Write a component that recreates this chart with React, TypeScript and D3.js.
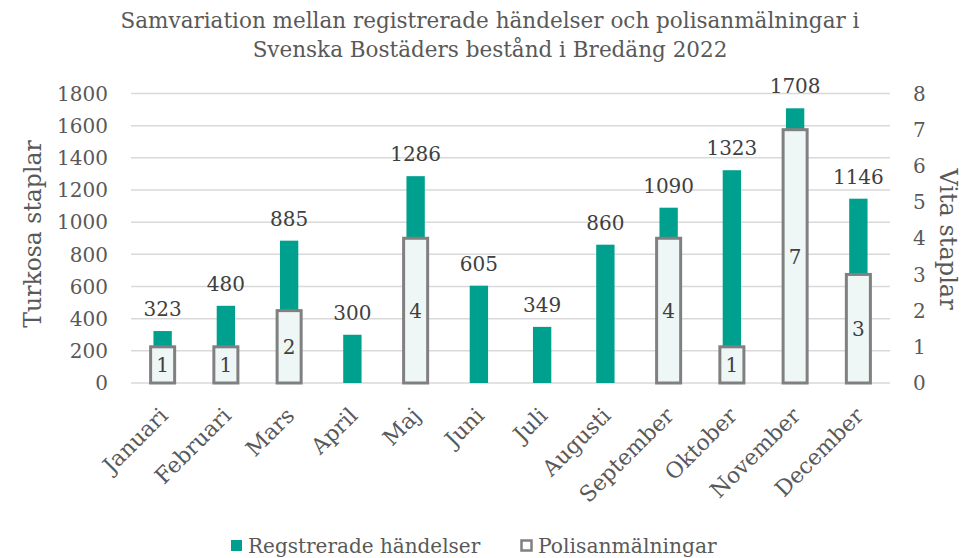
import React from "react";
import * as d3 from "d3";

const months = ["Januari","Februari","Mars","April","Maj","Juni","Juli","Augusti","September","Oktober","November","December"];
const registered = [323,480,885,300,1286,605,349,860,1090,1323,1708,1146];
const police = [1,1,2,0,4,0,0,0,4,1,7,3];
const leftTicks = [0,200,400,600,800,1000,1200,1400,1600,1800];
const rightTicks = [0,1,2,3,4,5,6,7,8];
const titleLines = ["Samvariation mellan registrerade händelser och polisanmälningar i","Svenska Bostäders bestånd i Bredäng 2022"];

const W = 979, H = 558;
const FONT = "'DejaVu Serif', serif";
const TEAL = "#00A08E";
const GRAY = "#808080";
const TXT = "#595959";

export default function App() {
  const x = d3.scaleBand<string>().domain(months).range([131, 890]).paddingInner(0).paddingOuter(0);
  const yL = d3.scaleLinear().domain([0, 1800]).range([383, 93.5]);
  const yR = d3.scaleLinear().domain([0, 8]).range([383, 93.5]);
  const bw = x.bandwidth();
  const tealW = bw * 0.29;
  const whiteW = bw * 0.38;
  return (
    <svg width={W} height={H} style={{ position: "absolute", left: 0, top: 0, background: "#fff" }} fontFamily={FONT}>
      {titleLines.map((t, i) => (
        <text key={t} x={490} y={28 + i * 29} textAnchor="middle" fontSize={21.5} fill={TXT}>{t}</text>
      ))}
      {leftTicks.map(v => (
        <line key={"g" + v} x1={131} x2={890} y1={yL(v)} y2={yL(v)} stroke="#D9D9D9" strokeWidth={1.5} />
      ))}
      {leftTicks.map(v => (
        <text key={"l" + v} x={108} y={yL(v)} dy="0.36em" textAnchor="end" fontSize={20} fill={TXT}>{v}</text>
      ))}
      {rightTicks.map(v => (
        <text key={"r" + v} x={913} y={yR(v)} dy="0.36em" textAnchor="start" fontSize={20} fill={TXT}>{v}</text>
      ))}
      <text transform={`translate(41,${234}) rotate(-90)`} textAnchor="middle" fontSize={23.5} fill={TXT}>Turkosa staplar</text>
      <text transform={`translate(940,${239}) rotate(90)`} textAnchor="middle" fontSize={24} fill={TXT}>Vita staplar</text>
      {months.map((m, i) => {
        const cx = x(m)! + bw / 2;
        return (
          <rect key={"t" + m} x={cx - tealW / 2} y={yL(registered[i])} width={tealW} height={yL(0) - yL(registered[i])} fill={TEAL} />
        );
      })}
      {months.map((m, i) => {
        const cx = x(m)! + bw / 2;
        if (police[i] === 0) return null;
        return (
          <rect key={"w" + m} x={cx - whiteW / 2} y={yR(police[i])} width={whiteW} height={yR(0) - yR(police[i])} fill="#EEF7F5" stroke={GRAY} strokeWidth={3} />
        );
      })}
      {months.map((m, i) => {
        const cx = x(m)! + bw / 2;
        return (
          <text key={"tl" + m} x={cx} y={yL(registered[i]) - 15} textAnchor="middle" fontSize={20} fill="#404040">{registered[i]}</text>
        );
      })}
      {months.map((m, i) => {
        const cx = x(m)! + bw / 2;
        if (police[i] === 0) return null;
        return (
          <text key={"wl" + m} x={cx} y={(yR(police[i]) + yR(0)) / 2} dy="0.36em" textAnchor="middle" fontSize={20} fill="#404040">{police[i]}</text>
        );
      })}
      {months.map((m) => {
        const cx = x(m)! + bw / 2;
        return (
          <text key={"x" + m} transform={`translate(${cx + 6.5},${417}) rotate(-45)`} textAnchor="end" fontSize={22} fill={TXT}>{m}</text>
        );
      })}
      <rect x={231} y={540} width={11} height={11} fill={TEAL} />
      <text x={248} y={553} fontSize={20} fill={TXT}>Regstrerade händelser</text>
      <rect x={521.5} y={540.5} width={10} height={10} fill="#fff" stroke={GRAY} strokeWidth={2.5} />
      <text x={538} y={553} fontSize={20.3} fill={TXT}>Polisanmälningar</text>
    </svg>
  );
}
